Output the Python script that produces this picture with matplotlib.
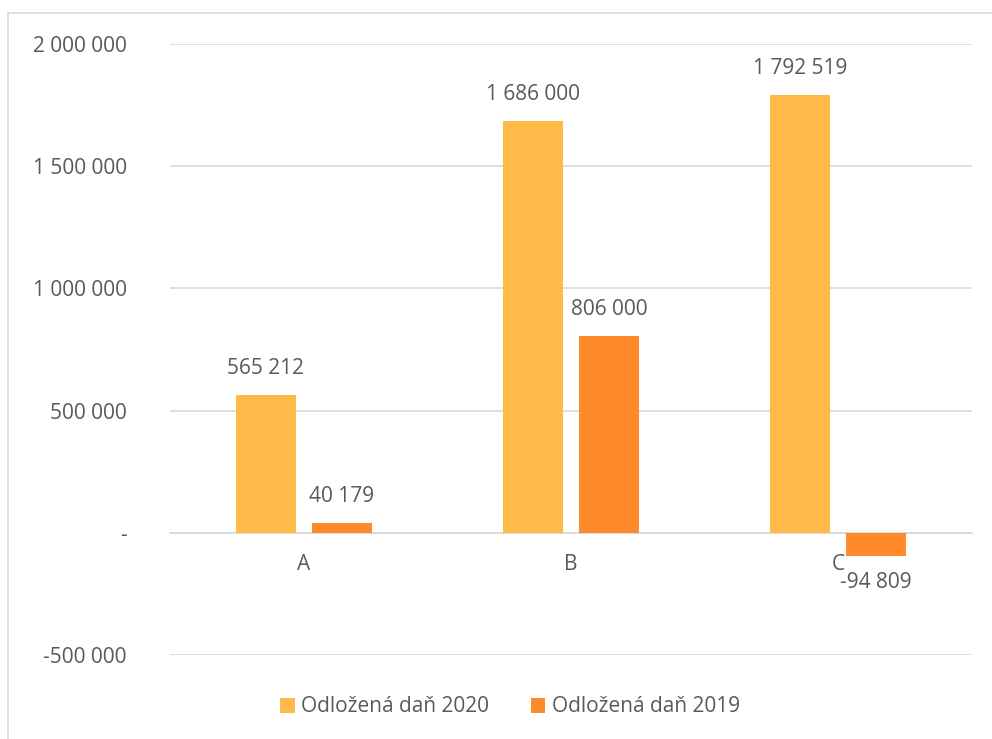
import numpy as np
import matplotlib.pyplot as plt
from matplotlib.patches import Rectangle

plt.rcParams['font.family'] = ['Open Sans', 'DejaVu Sans']

categories = ['A', 'B', 'C']
dan_2020 = [565212, 1686000, 1792519]
dan_2019 = [40179, 806000, -94809]
series_names = ['Odložená daň 2020', 'Odložená daň 2019']
yticks = [-500000, 0, 500000, 1000000, 1500000, 2000000]

col_2020 = '#FFBA47'
col_2019 = '#FF8A2B'
txt = '#595959'
fs = 15


def fmt(v):
    if v == 0:
        return '-'
    s = f'{abs(v):,}'.replace(',', ' ')
    return ('-' if v < 0 else '') + s


fig = plt.figure(figsize=(9.92, 7.39), dpi=100)
ax = fig.add_axes([170 / 992, 1 - 655 / 739, 802 / 992, 611 / 739])

# outer chart border
fig.patches.append(Rectangle((8 / 992, -0.05), 1.0, 1 - 13 / 739 + 0.05,
                             transform=fig.transFigure, fill=False,
                             edgecolor='#D9D9D9', linewidth=1.2))

x = np.arange(len(categories))
w = 0.225
off = 0.142
b1 = ax.bar(x - off, dan_2020, w, color=col_2020, label=series_names[0], zorder=3)
b2 = ax.bar(x + off, dan_2019, w, color=col_2019, label=series_names[1], zorder=3)

for bars in (b1, b2):
    for rect, v in zip(bars, bars.datavalues):
        cx = rect.get_x() + rect.get_width() / 2
        dy = 19 if v >= 0 else -19
        ax.annotate(fmt(int(v)), (cx, v), xytext=(0, dy), textcoords='offset points',
                    ha='center', va='center', fontsize=fs, color=txt)

ax.set_xlim(-0.5, 2.5)
ax.set_ylim(-500000, 2000000)
ax.set_yticks(yticks)
ax.set_yticklabels([fmt(v) for v in yticks])
ax.set_xticks(x)
ax.set_xticklabels(categories)
ax.yaxis.grid(True, color='#D9D9D9', linewidth=1.2, zorder=0)
ax.set_axisbelow(True)
for s in ['top', 'right', 'left']:
    ax.spines[s].set_visible(False)
ax.spines['bottom'].set_position(('data', 0))
ax.spines['bottom'].set_color('#D9D9D9')
ax.spines['bottom'].set_linewidth(1.2)
ax.tick_params(axis='y', length=0, pad=31, labelsize=fs, labelcolor=txt)
ax.tick_params(axis='x', length=0, pad=15, labelsize=fs, labelcolor=txt)

fig.legend(loc='center', bbox_to_anchor=(510 / 992, 1 - 707 / 739), ncol=2,
           frameon=False, fontsize=fs, labelcolor=txt, handlelength=0.7,
           handleheight=0.7, columnspacing=2.0, handletextpad=0.3)

fig.savefig('out.png', dpi=100)
